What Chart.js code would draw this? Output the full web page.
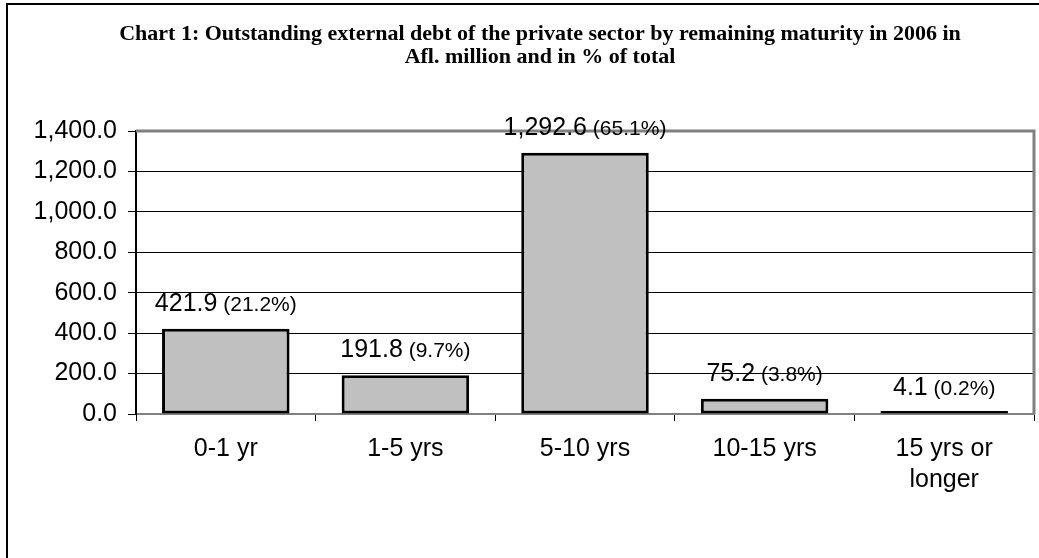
<!DOCTYPE html>
<html>
<head>
<meta charset="utf-8">
<script src="https://cdn.jsdelivr.net/npm/chart.js@4/dist/chart.umd.min.js"></script>
<style>
  html, body { margin: 0; padding: 0; background: #fff; }
  #wrap { width: 1039px; height: 558px; position: relative; }
</style>
</head>
<body>
<div id="wrap"><canvas id="c" width="1039" height="558"></canvas></div>
<script>
// Remaining maturity buckets, Afl. million and share of total
const categories = [['0-1 yr'], ['1-5 yrs'], ['5-10 yrs'], ['10-15 yrs'], ['15 yrs or', 'longer']];
const debtValues = [421.9, 191.8, 1292.6, 75.2, 4.1];
const shareLabels = ['(21.2%)', '(9.7%)', '(65.1%)', '(3.8%)', '(0.2%)'];
const yTicks = [0, 200, 400, 600, 800, 1000, 1200, 1400];
const titleLines = [
  'Chart 1: Outstanding external debt of the private sector by remaining maturity in 2006 in',
  'Afl. million and in % of total'
];

const SANS = '"Liberation Sans", Arial, sans-serif';
const SERIF = '"Liberation Serif", "Times New Roman", serif';
const fmt = v => v.toLocaleString('en-US', { minimumFractionDigits: 1, maximumFractionDigits: 1 });

// Outer frame, title, and the grey plot border (top and right)
const decor = {
  id: 'decor',
  beforeDraw(chart) {
    const ctx = chart.ctx;
    ctx.save();
    ctx.fillStyle = '#fff';
    ctx.fillRect(0, 0, chart.width, chart.height);
    ctx.strokeStyle = '#000';
    ctx.lineWidth = 2;
    ctx.strokeRect(7, 4, chart.width + 40, chart.height + 40);
    ctx.fillStyle = '#000';
    ctx.font = 'bold 22px ' + SERIF;
    ctx.textAlign = 'center';
    ctx.textBaseline = 'alphabetic';
    ctx.fillText(titleLines[0], 540, 40);
    ctx.fillText(titleLines[1], 540, 63);
    ctx.restore();
  },
  beforeDatasetsDraw(chart) {
    const { ctx, chartArea: a } = chart;
    ctx.save();
    ctx.strokeStyle = '#808080';
    ctx.lineWidth = 3;
    ctx.beginPath();
    ctx.moveTo(a.left, a.top);
    ctx.lineTo(a.right, a.top);
    ctx.lineTo(a.right, a.bottom);
    ctx.stroke();
    ctx.restore();
  }
};

// Value labels above each bar: amount plus share in a smaller size
const valueLabels = {
  id: 'valueLabels',
  afterDatasetsDraw(chart) {
    const ctx = chart.ctx;
    const meta = chart.getDatasetMeta(0);
    ctx.save();
    ctx.fillStyle = '#000';
    ctx.textBaseline = 'alphabetic';
    ctx.textAlign = 'left';
    meta.data.forEach((bar, i) => {
      const main = fmt(debtValues[i]);
      const pct = ' ' + shareLabels[i];
      ctx.font = '25px ' + SANS;
      const w1 = ctx.measureText(main).width;
      ctx.font = '21px ' + SANS;
      const w2 = ctx.measureText(pct).width;
      const x0 = bar.x - (w1 + w2) / 2;
      const y = chart.scales.y.getPixelForValue(debtValues[i]) - 18;
      ctx.font = '25px ' + SANS;
      ctx.fillText(main, x0, y);
      ctx.font = '21px ' + SANS;
      ctx.fillText(pct, x0 + w1, y);
    });
    ctx.restore();
  }
};

new Chart(document.getElementById('c'), {
  type: 'bar',
  data: {
    labels: categories,
    datasets: [{
      data: debtValues,
      backgroundColor: '#c0c0c0',
      borderColor: '#000',
      borderWidth: 3,
      borderSkipped: false,
      barPercentage: 0.71,
      categoryPercentage: 1,
      minBarLength: 3
    }]
  },
  options: {
    responsive: false,
    animation: false,
    devicePixelRatio: 1,
    layout: { padding: { left: 0, right: 5, top: 131, bottom: 0 } },
    plugins: { legend: { display: false }, title: { display: false }, tooltip: { enabled: false } },
    scales: {
      x: {
        afterFit(s) { s.height = 144; },
        grid: { drawOnChartArea: false, offset: true, tickLength: 7, color: '#000', lineWidth: 1 },
        border: { display: true, color: '#808080', width: 2 },
        ticks: { color: '#000', font: { family: SANS, size: 25, lineHeight: 1.22 }, padding: 13, maxRotation: 0, autoSkip: false }
      },
      y: {
        min: 0,
        max: 1400,
        afterFit(s) { s.width = 136; },
        afterBuildTicks(s) { s.ticks = yTicks.map(v => ({ value: v })); },
        grid: {
          color: '#000',
          lineWidth: 1,
          tickLength: 8
        },
        border: { display: true, color: '#000', width: 2 },
        ticks: { color: '#000', font: { family: SANS, size: 25 }, padding: 11, callback: v => fmt(v) }
      }
    }
  },
  plugins: [decor, valueLabels]
});
</script>
</body>
</html>
